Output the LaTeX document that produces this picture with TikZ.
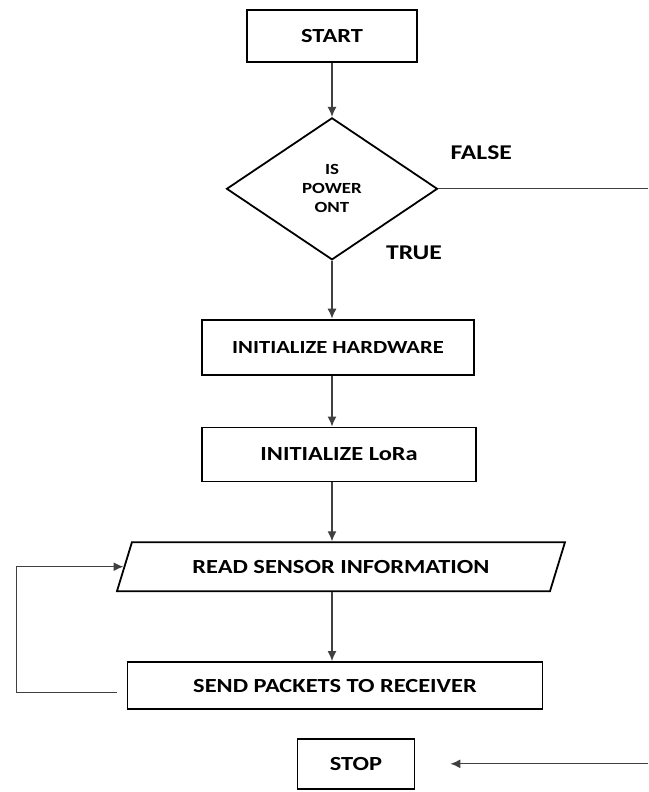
\documentclass[tikz,border=0pt]{standalone}
\usepackage{fontspec}
\newfontfamily\chartfont[FakeStretch=1.22]{Carlito}
\usetikzlibrary{shapes, positioning, arrows.meta, calc}

\tikzset{
  block/.style={rectangle, draw, line width=1.8pt, inner sep=0pt,
    font={\chartfont\bfseries\fontsize{20}{22}\selectfont}},
  decision/.style={diamond, draw, line width=1.8pt, inner sep=0pt, align=center,
    minimum width=211pt, minimum height=142pt,
    font={\chartfont\bfseries\fontsize{15.5}{19}\selectfont}},
  io/.style={trapezium, draw, line width=1.8pt, inner xsep=0pt, inner ysep=18pt,
    text height=13pt, text depth=0pt,
    trapezium left angle=73, trapezium right angle=107, trapezium stretches body=true,
    font={\chartfont\bfseries\fontsize{20}{22}\selectfont}},
  lbl/.style={inner sep=0pt, font={\chartfont\bfseries\fontsize{21}{22}\selectfont}},
  conn/.style={line width=1.3pt, draw=black!75},
  >={Latex[length=10pt,width=9pt]}
}

\begin{document}
\begin{tikzpicture}[x=1pt, y=-1pt]
		\useasboundingbox (0,0) rectangle (648,792);
		\coordinate (rightedge) at (648,0);

		\node[block, minimum width=170pt, minimum height=52pt] (start) at (332,36) {START};
		\node[decision, below=54pt of start] (power) {IS\\POWER\\ONT};
		\node[block, minimum width=272pt, minimum height=55pt, below=58pt of power, xshift=6pt,
		  font={\chartfont\bfseries\fontsize{18.5}{22}\selectfont}] (hw) {INITIALIZE HARDWARE};
		\node[block, minimum width=274pt, minimum height=54pt, below=51pt of hw, xshift=1pt] (lora) {INITIALIZE LoRa};
		\node[io, minimum width=448pt, below=59pt of lora, xshift=2pt] (read) {READ SENSOR INFORMATION};
		\node[block, minimum width=415pt, minimum height=47pt, below=69pt of read, xshift=-6pt] (send) {SEND PACKETS TO RECEIVER};
		\node[block, minimum width=117pt, minimum height=50pt, below=28pt of send, xshift=21pt] (stop) {STOP};

		\node[lbl, above right=29pt and 12pt of power.east, anchor=south west] (false) {FALSE};
		\node[lbl, above right=1pt and 54pt of power.south, anchor=south west] (true) {TRUE};

		\draw[conn, ->] (start) -- (power);
		\draw[conn, ->] (power.south) -- (power.south |- hw.north);
		\draw[conn, ->] (hw.south -| power.south) -- (power.south |- lora.north);
		\draw[conn, ->] (lora.south -| power.south) -- (power.south |- read.north);
		\draw[conn, ->] (read.south -| power.south) -- (power.south |- send.north);
		%
		\draw[conn] (power.east) -- (power.east -| rightedge);
		\draw[conn, ->] (stop.east -| rightedge) -- ([xshift=35pt]stop.east);
		%
		\draw[conn, ->] ([xshift=-10pt, yshift=-7pt]send.west) -- ++(-100,0) |- (read.west);
	\end{tikzpicture}
\end{document}
